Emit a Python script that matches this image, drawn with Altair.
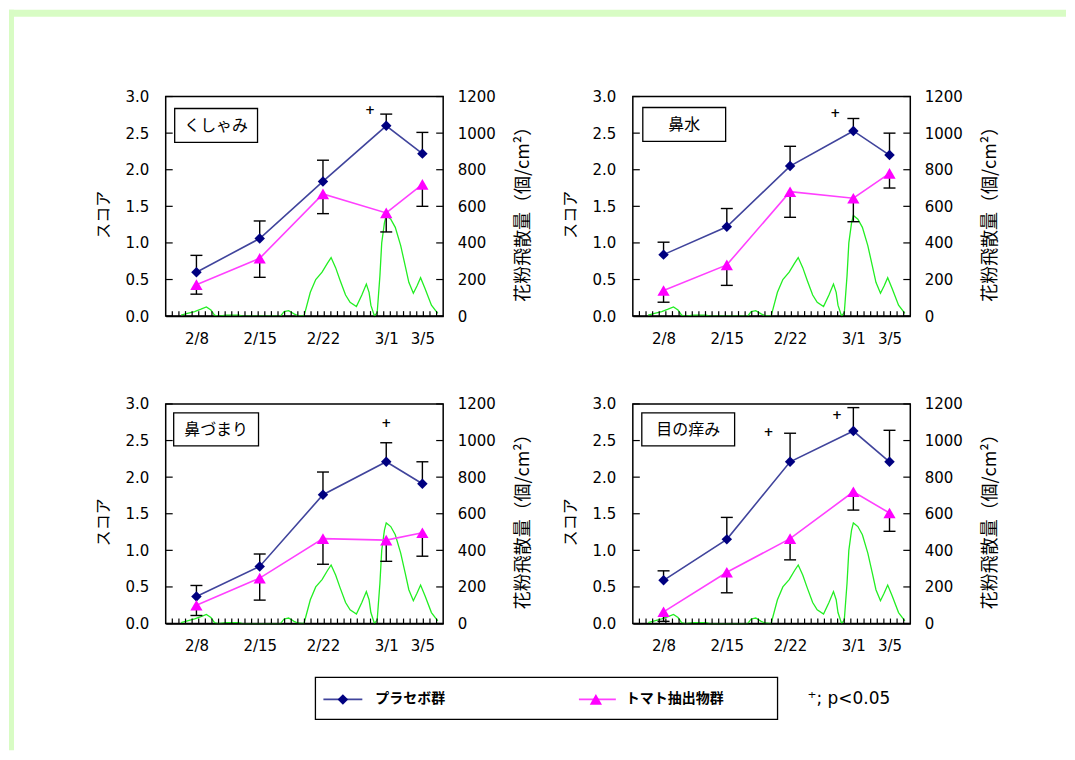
import altair as alt
import pandas as pd
import numpy as np

# ---------------- data ----------------
symptoms = ["くしゃみ", "鼻水", "鼻づまり", "目の痒み"]
days = [8, 15, 22, 29, 33]            # day number, Feb 1 = 1 (3/1 = 29)
day_labels = ["2/8", "2/15", "2/22", "3/1", "3/5"]
series_names = ["プラセボ群", "トマト抽出物群"]
note_text = "⁺; p<0.05"

placebo = {
    "くしゃみ": [0.60, 1.06, 1.84, 2.60, 2.22],
    "鼻水": [0.84, 1.22, 2.05, 2.53, 2.20],
    "鼻づまり": [0.37, 0.78, 1.76, 2.21, 1.91],
    "目の痒み": [0.59, 1.15, 2.21, 2.63, 2.21],
}
placebo_upper = {
    "くしゃみ": [0.83, 1.30, 2.13, 2.76, 2.51],
    "鼻水": [1.01, 1.47, 2.32, 2.70, 2.50],
    "鼻づまり": [0.52, 0.95, 2.07, 2.47, 2.21],
    "目の痒み": [0.72, 1.45, 2.60, 2.95, 2.64],
}
tomato = {
    "くしゃみ": [0.43, 0.79, 1.67, 1.41, 1.80],
    "鼻水": [0.35, 0.70, 1.70, 1.61, 1.95],
    "鼻づまり": [0.25, 0.62, 1.16, 1.14, 1.24],
    "目の痒み": [0.16, 0.70, 1.16, 1.80, 1.51],
}
tomato_lower = {
    "くしゃみ": [0.30, 0.53, 1.40, 1.15, 1.50],
    "鼻水": [0.19, 0.42, 1.35, 1.29, 1.75],
    "鼻づまり": [0.11, 0.32, 0.81, 0.85, 0.92],
    "目の痒み": [0.03, 0.42, 0.87, 1.55, 1.26],
}
sig_day = {"くしゃみ": [27.2], "鼻水": [27.0], "鼻づまり": [29.0], "目の痒み": [19.6, 27.2]}
sig_y = {"くしゃみ": [2.81], "鼻水": [2.78], "鼻づまり": [2.74], "目の痒み": [2.62, 2.85]}

pollen_day = [6.3, 7.0, 7.8, 8.5, 9.1, 9.6, 10.0, 10.4, 11.3, 12.7, 13.1,
              17.3, 17.7, 18.2, 18.8, 19.2, 19.9, 20.6, 21.2, 21.9, 22.5,
              22.9, 23.4, 23.9, 24.5, 25.0, 25.7, 26.3, 26.8, 27.1, 27.3,
              27.7, 28.0, 28.3, 28.5, 28.8, 29.0, 29.5, 30.0, 30.6, 31.1,
              31.5, 32.0, 32.4, 32.8, 33.3, 34.0, 34.7]
pollen_val = [5, 15, 25, 38, 50, 33, 5, 0, 5, 5, 0,
              0, 25, 30, 12, 3, 0, 130, 200, 240, 290,
              320, 265, 195, 115, 75, 52, 115, 175, 130, 60,
              0, 20, 220, 400, 510, 550, 530, 485, 385, 275,
              185, 125, 165, 210, 150, 60, 15]

score_ticks = [0, 0.5, 1.0, 1.5, 2.0, 2.5, 3.0]
pollen_ticks = [0, 200, 400, 600, 800, 1000, 1200]

# ---------------- style ----------------
FONT_NUM = "DejaVu Sans"
FONT_JP = "Noto Sans CJK JP"
W, H = 278, 220
LINE_COLORS = ["#40449c", "#ff40ff"]
MARK_COLORS = ["#000080", "#ff00ff"]
POLLEN_COLOR = "#22ee22"
FRAME_COLOR = "#d8fcc4"
X_DOMAIN = [4.6, 35.3]
minor_ticks = list(np.linspace(X_DOMAIN[0], X_DOMAIN[1], 43)[1:-1])
boxes = [(9, 92, 12, 46), (10, 93, 11, 45), (8, 93, 9, 42), (9, 102, 9, 42)]

xs = alt.Scale(domain=X_DOMAIN, nice=False, zero=False)
ys = alt.Scale(domain=[0, 3], nice=False, zero=False)
ps = alt.Scale(domain=[0, 1200], nice=False, zero=False)

label_expr = "".join(f"datum.value == {d} ? '{l}' : " for d, l in zip(days, day_labels)) + "''"

x_axis = alt.Axis(values=days, labelExpr=label_expr, title=None, ticks=False, tickSize=0,
                  domain=True, domainColor="black", domainWidth=1.5, grid=False,
                  labelFont=FONT_NUM, labelFontSize=15, labelColor="black",
                  labelPadding=15, labelOverlap=False, labelFlush=False, zindex=1)
y_axis = alt.Axis(orient="left", values=score_ticks, format=".1f", title="スコア",
                  titleFont=FONT_JP, titleFontSize=16, titleFontWeight="normal",
                  titleColor="black", titleAngle=270, titleAlign="center",
                  titleBaseline="middle", titleX=-62, titleY=118,
                  ticks=False, tickSize=0, domain=False, grid=False,
                  labelFont=FONT_NUM, labelFontSize=15, labelColor="black",
                  labelPadding=17, labelOverlap=False, labelFlush=False)
p_axis = alt.Axis(orient="right", values=pollen_ticks, format="d", title="花粉飛散量（個/cm²）",
                  titleFont=FONT_JP, titleFontSize=18, titleFontWeight="normal",
                  titleColor="black", titleAngle=270, titleAlign="center",
                  titleBaseline="middle", titleX=80, titleY=113,
                  ticks=False, tickSize=0, domain=False, grid=False,
                  labelFont=FONT_NUM, labelFontSize=15, labelColor="black",
                  labelPadding=14, labelOverlap=False, labelFlush=False)


def X(field="day"):
    return alt.X(f"{field}:Q", scale=xs, axis=x_axis)


def Y(field):
    return alt.Y(f"{field}:Q", scale=ys, axis=y_axis)


def one_row(**kw):
    return alt.Chart(pd.DataFrame({k: [v] for k, v in kw.items()}))


def frame_layers():
    return [
        one_row(part="top").mark_rect(fill=FRAME_COLOR).encode(
            x=alt.value(-157), x2=alt.value(902), y=alt.value(-87), y2=alt.value(-80)),
        one_row(part="left").mark_rect(fill=FRAME_COLOR).encode(
            x=alt.value(-157), x2=alt.value(-152), y=alt.value(-87), y2=alt.value(655)),
    ]


def legend_layers():
    ly = 296
    out = [one_row(part="box").mark_rect(fill="white", stroke="black", strokeWidth=1.3).encode(
        x=alt.value(150), x2=alt.value(613), y=alt.value(274), y2=alt.value(316))]
    spec = [(158, 197, 177.5, 210, "diamond", 110), (414, 451, 431, 461, "triangle-up", 150)]
    for (x1, x2, xm, xt, shp, sz), name, lc, mc in zip(spec, series_names, LINE_COLORS, MARK_COLORS):
        out.append(one_row(label=name).mark_rule(color=lc, strokeWidth=1.6).encode(
            x=alt.value(x1), x2=alt.value(x2), y=alt.value(ly)))
        out.append(one_row(label=name).mark_point(shape=shp, filled=True, size=sz, color=mc, opacity=1).encode(
            x=alt.value(xm), y=alt.value(ly)))
        out.append(one_row(label=name).mark_text(align="left", baseline="middle", font=FONT_JP,
                                                  fontSize=14, fontWeight="bold", color="black").encode(
            text="label:N", x=alt.value(xt), y=alt.value(ly)))
    out.append(one_row(note=note_text).mark_text(align="left", baseline="middle", font=FONT_NUM,
                                                 fontSize=17, color="black").encode(
        text="note:N", x=alt.value(643), y=alt.value(ly)))
    return out


def panel(i, name):
    df = pd.DataFrame({"day": days, "placebo": placebo[name], "p_up": placebo_upper[name],
                       "tomato": tomato[name], "t_lo": tomato_lower[name]})
    base = alt.Chart(df)
    layers = []
    if i == 0:
        layers += frame_layers()
    if i == 2:
        layers += legend_layers()
    b = boxes[i]
    layers += [
        alt.Chart(pd.DataFrame({"v": score_ticks})).mark_rule(color="black", strokeWidth=1.2).encode(
            y=Y("v"), x=alt.value(0), x2=alt.value(7)),
        alt.Chart(pd.DataFrame({"v": minor_ticks})).mark_rule(color="black", strokeWidth=1.2).encode(
            x=X("v"), y=alt.value(H - 5), y2=alt.value(H)),
        base.mark_line(color=LINE_COLORS[0], strokeWidth=1.6).encode(x=X(), y=Y("placebo")),
        base.mark_line(color=LINE_COLORS[1], strokeWidth=1.6).encode(x=X(), y=Y("tomato")),
        base.mark_rule(color="black", strokeWidth=1.4).encode(x=X(), y=Y("placebo"), y2="p_up:Q"),
        base.mark_rule(color="black", strokeWidth=1.4, xOffset=-6, x2Offset=6).encode(
            x=X(), x2="day:Q", y=Y("p_up")),
        base.mark_rule(color="black", strokeWidth=1.4).encode(x=X(), y=Y("tomato"), y2="t_lo:Q"),
        base.mark_rule(color="black", strokeWidth=1.4, xOffset=-6, x2Offset=6).encode(
            x=X(), x2="day:Q", y=Y("t_lo")),
        base.mark_point(shape="diamond", filled=True, size=110, color=MARK_COLORS[0], opacity=1).encode(
            x=X(), y=Y("placebo")),
        base.mark_point(shape="triangle-up", filled=True, size=150, color=MARK_COLORS[1], opacity=1).encode(
            x=X(), y=Y("tomato")),
        alt.Chart(pd.DataFrame({"day": sig_day[name], "y": sig_y[name]})).mark_text(
            text="+", font=FONT_NUM, fontSize=12, fontWeight="bold", color="black").encode(
            x=X(), y=Y("y")),
        one_row(name=name).mark_rect(fill="white", stroke="black", strokeWidth=1.3).encode(
            x=alt.value(b[0]), x2=alt.value(b[1]), y=alt.value(b[2]), y2=alt.value(b[3])),
        one_row(name=name).mark_text(font=FONT_JP, fontSize=16, color="black", align="center",
                                     baseline="middle").encode(
            text="name:N", x=alt.value((b[0] + b[1]) / 2), y=alt.value((b[2] + b[3]) / 2 + 1)),
    ]
    score = alt.layer(*layers)

    pollen = alt.layer(
        alt.Chart(pd.DataFrame({"day": pollen_day, "pollen": pollen_val})).mark_line(
            color=POLLEN_COLOR, strokeWidth=1.3).encode(
            x=X(), y=alt.Y("pollen:Q", scale=ps, axis=p_axis)),
        alt.Chart(pd.DataFrame({"v": pollen_ticks})).mark_rule(color="black", strokeWidth=1.2).encode(
            y=alt.Y("v:Q", scale=ps, axis=p_axis), x=alt.value(W - 7), x2=alt.value(W)),
    )
    return alt.layer(pollen, score).resolve_scale(y="independent").properties(width=W, height=H)


panels = [panel(i, s) for i, s in enumerate(symptoms)]

chart = alt.concat(
    *panels, columns=2, spacing=alt.RowColnumber(row=88, column=190), bounds="flush"
).properties(padding=0, background="white").configure_view(stroke="black", strokeWidth=1.5)

chart.save("out.html", embed_options={"renderer": "svg", "actions": False})
